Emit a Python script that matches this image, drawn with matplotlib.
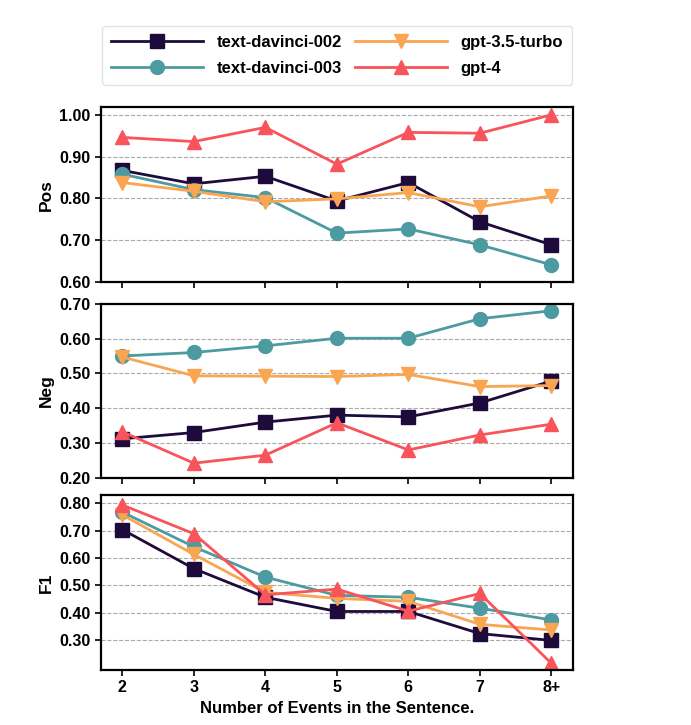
import matplotlib
matplotlib.use("Agg")
import matplotlib.pyplot as plt

plt.rcParams['font.family'] = ['Liberation Sans', 'DejaVu Sans']
plt.rcParams['font.weight'] = 'bold'
plt.rcParams['axes.labelweight'] = 'bold'

# Data
x_labels = ["2", "3", "4", "5", "6", "7", "8+"]
models = ["text-davinci-002", "text-davinci-003", "gpt-3.5-turbo", "gpt-4"]

pos_002 = [0.867, 0.835, 0.853, 0.794, 0.838, 0.744, 0.689]
pos_003 = [0.858, 0.821, 0.802, 0.717, 0.727, 0.689, 0.641]
pos_35 = [0.838, 0.817, 0.792, 0.799, 0.814, 0.780, 0.806]
pos_4 = [0.946, 0.936, 0.970, 0.882, 0.958, 0.956, 1.000]

neg_002 = [0.312, 0.330, 0.360, 0.380, 0.375, 0.415, 0.478]
neg_003 = [0.550, 0.560, 0.579, 0.601, 0.601, 0.657, 0.680]
neg_35 = [0.547, 0.493, 0.492, 0.491, 0.497, 0.462, 0.465]
neg_4 = [0.332, 0.242, 0.265, 0.358, 0.280, 0.323, 0.354]

f1_002 = [0.704, 0.561, 0.456, 0.404, 0.404, 0.323, 0.298]
f1_003 = [0.768, 0.641, 0.530, 0.463, 0.456, 0.416, 0.373]
f1_35 = [0.758, 0.613, 0.474, 0.452, 0.441, 0.357, 0.336]
f1_4 = [0.794, 0.689, 0.465, 0.486, 0.405, 0.470, 0.214]

colors = ["#1e0b3c", "#4c9ba0", "#f9a552", "#f8545b"]
markers = ["s", "o", "v", "^"]

panels = [
    ("Pos", [pos_002, pos_003, pos_35, pos_4], (0.60, 1.018), [0.60, 0.70, 0.80, 0.90, 1.00]),
    ("Neg", [neg_002, neg_003, neg_35, neg_4], (0.20, 0.70), [0.20, 0.30, 0.40, 0.50, 0.60, 0.70]),
    ("F1", [f1_002, f1_003, f1_35, f1_4], (0.19, 0.83), [0.30, 0.40, 0.50, 0.60, 0.70, 0.80]),
]

fig = plt.figure(figsize=(6.91, 7.25), dpi=100)
boxes = [(0.146, 0.611, 0.683, 0.241),
         (0.146, 0.341, 0.683, 0.240),
         (0.146, 0.076, 0.683, 0.241)]

x = list(range(len(x_labels)))
for i, (name, series, ylim, yticks) in enumerate(panels):
    ax = fig.add_axes(boxes[i])
    for j, vals in enumerate(series):
        ax.plot(x, vals, color=colors[j], marker=markers[j], markersize=10,
                linewidth=2, label=models[j])
    ax.set_ylim(*ylim)
    ax.set_yticks(yticks)
    ax.set_yticklabels([f"{t:.2f}" for t in yticks])
    ax.set_xticks(x)
    if i == 2:
        ax.set_xticklabels(x_labels)
        ax.set_xlabel("Number of Events in the Sentence.", fontsize=12)
    else:
        ax.set_xticklabels([])
    ax.set_ylabel(name, fontsize=12.5)
    ax.tick_params(labelsize=11.5, width=1.2, length=4)
    ax.grid(axis='y', linestyle='--', color='#aaaaaa', linewidth=0.8)
    for s in ax.spines.values():
        s.set_linewidth(1.6)
    if i == 0:
        handles, labels = ax.get_legend_handles_labels()

fig.legend(handles, labels, loc='lower left', ncol=2, mode='expand',
           bbox_to_anchor=(0.148, 0.883, 0.680, 0.083), fontsize=12,
           handlelength=5.5, frameon=True, edgecolor='#dddddd', borderaxespad=0,
           borderpad=0.55, labelspacing=0.62)

fig.savefig("out.png", dpi=100)
